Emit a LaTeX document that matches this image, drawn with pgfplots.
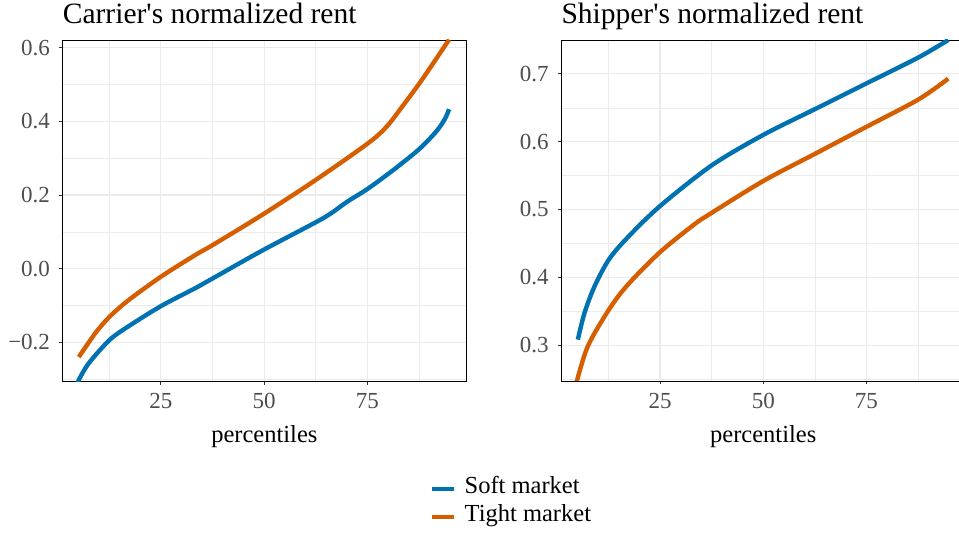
\documentclass[border=0pt]{standalone}
\usepackage{fontspec}
\setmainfont{Liberation Serif}
\usepackage{pgfplots}
\pgfplotsset{compat=1.18}
\definecolor{softc}{HTML}{0072B2}
\definecolor{tightc}{HTML}{D55E00}
\definecolor{gridc}{HTML}{EBEBEB}
\definecolor{tickc}{HTML}{333333}
\definecolor{labc}{HTML}{4D4D4D}
\pgfplotsset{
  panel/.style={
    scale only axis, height=341pt,
    xtick={25,50,75}, xticklabels={25,50,75},
    minor xtick={12.5,37.5,62.5,87.5},
    grid=both,
    major grid style={color=gridc, line width=1.07pt},
    minor grid style={color=gridc, line width=0.55pt},
    tick align=outside, xtick pos=bottom, ytick pos=left,
    major tick length=3.5pt, minor tick length=0pt,
    tick style={color=tickc, line width=0.9pt},
    axis line style={color=black, line width=0.9pt},
    ticklabel style={font=\fontsize{23}{26}\selectfont, text=labc, inner sep=0pt},
    xticklabel style={anchor=north, yshift=-9pt},
    yticklabel style={anchor=east, xshift=-9pt},
    xlabel={percentiles},
    xlabel style={font=\fontsize{24.5}{28}\selectfont, at={(axis description cs:0.5,0)}, anchor=base, yshift=-61pt},
    title style={font=\fontsize{29.5}{32}\selectfont, at={(axis description cs:0,1)}, anchor=base west, yshift=10pt, inner sep=0pt},
    every axis plot/.append style={line width=4.4pt, smooth, tension=0.5},
  }
}
\begin{document}
\begin{tikzpicture}
\begin{axis}[panel, at={(62.7pt,155pt)}, anchor=south west, width=403.3pt,
  xmin=1.2, xmax=98.9, ymin=-0.305, ymax=0.621,
  ytick={-0.2,0,0.2,0.4,0.6}, yticklabels={−0.2,0.0,0.2,0.4,0.6},
  minor ytick={-0.3,-0.1,0.1,0.3,0.5},
  title={Carrier\textquotesingle s normalized rent},
  legend style={at={(1.112,-0.358)}, anchor=center, draw=none, fill=none,
    font=\fontsize{24.5}{28}\selectfont, row sep=0pt, inner sep=0pt,
    nodes={inner sep=1.5pt, text height=17pt, text depth=8pt},
    /tikz/every odd column/.append style={column sep=7pt}},
  legend cell align=left,
  legend image code/.code={\draw[#1, line width=4.4pt] (0pt,0pt) -- (22pt,0pt);},
  ]
\addplot[softc] coordinates {(4.6,-0.318) (5.1,-0.302) (7.5,-0.257) (12.6,-0.193) (17.2,-0.156) (25.1,-0.101) (33.3,-0.053) (37.6,-0.026) (49.5,0.049) (62.5,0.126) (66.3,0.151) (70,0.181) (75.1,0.217) (81.3,0.268) (87.6,0.325) (91.8,0.374) (93.8,0.407) (94.8,0.433)};
\addlegendentry{Soft market}
\addplot[tightc] coordinates {(5.1,-0.240) (9.1,-0.175) (12.6,-0.130) (17.2,-0.085) (25.1,-0.021) (33.3,0.037) (37.5,0.064) (49.5,0.146) (62.5,0.241) (75.1,0.340) (79.7,0.386) (83.7,0.444) (87.6,0.503) (90.9,0.557) (94.8,0.622)};
\addlegendentry{Tight market}
\end{axis}
\begin{axis}[panel, at={(561.3pt,155pt)}, anchor=south west, width=403.9pt,
  xmin=1.1, xmax=98.9, ymin=0.247, ymax=0.750,
  ytick={0.3,0.4,0.5,0.6,0.7}, yticklabels={0.3,0.4,0.5,0.6,0.7},
  minor ytick={0.25,0.35,0.45,0.55,0.65,0.75},
  title={Shipper\textquotesingle s normalized rent},
  ]
\addplot[softc] coordinates {(5.1,0.308) (6.7,0.347) (9.1,0.386) (12.6,0.426) (17.2,0.459) (25,0.505) (37.5,0.565) (50,0.610) (62.5,0.648) (75,0.686) (87.5,0.724) (94.8,0.750)};
\addplot[tightc] coordinates {(4.7,0.243) (7.5,0.298) (12.6,0.352) (17.2,0.389) (25,0.437) (33.3,0.478) (37.5,0.495) (50,0.542) (62.5,0.582) (75,0.622) (87.5,0.662) (94.8,0.693)};
\end{axis}
\pgfresetboundingbox
\useasboundingbox (0pt,0pt) rectangle (959pt,536pt);
\end{tikzpicture}
\end{document}
